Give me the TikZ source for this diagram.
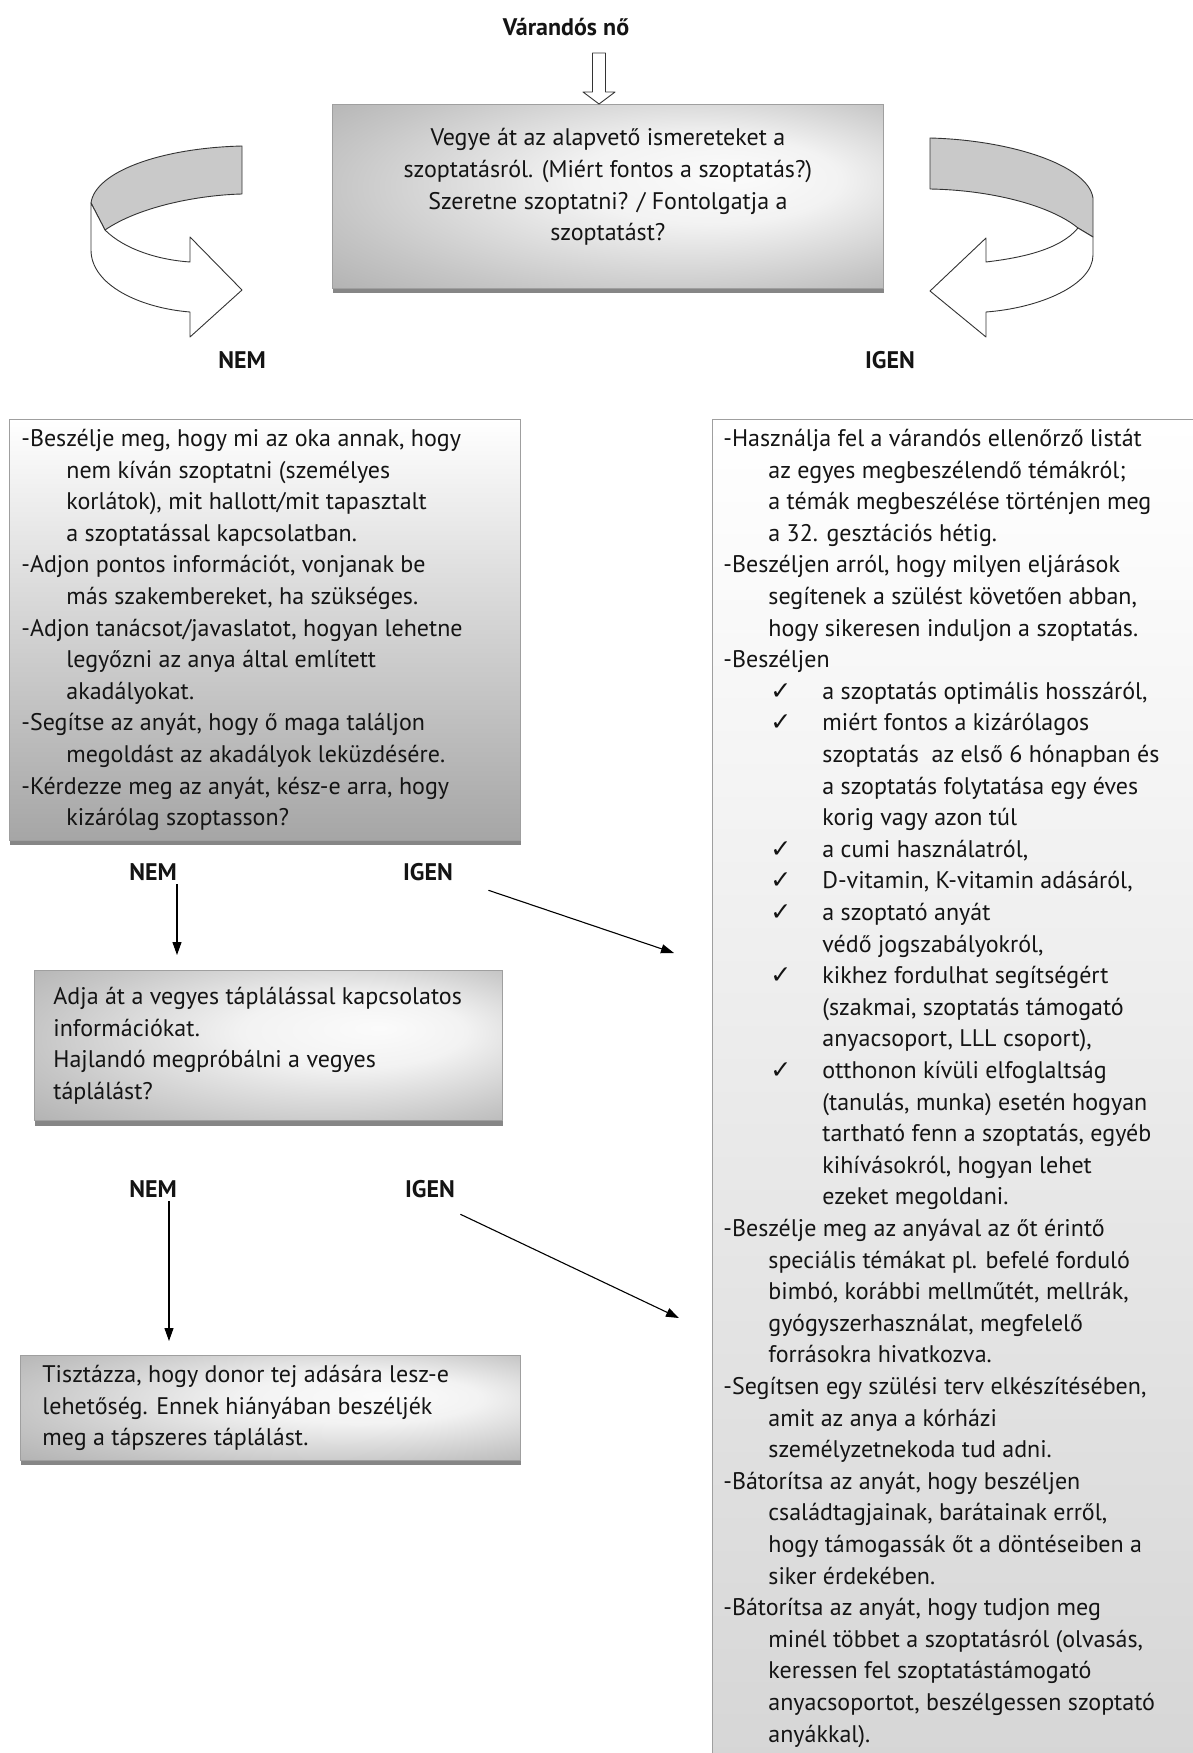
\documentclass[tikz,border=0pt]{standalone}
\usepackage{fontspec}
\setmainfont{PT Sans}
\newfontfamily\chkfont{DejaVu Sans}
\usetikzlibrary{arrows.meta,shadows}

\newcommand{\bodyfont}{\fontsize{24}{31.6}\selectfont}
\newcommand{\ind}{\hspace*{45pt}}
\newcommand{\chk}{\hspace*{47pt}\makebox[52pt][l]{\chkfont\fontsize{25}{20}\selectfont ✓}}
\newcommand{\chkind}{\hspace*{99pt}}
\pgfdeclareradialshading{sheen}{\pgfpoint{12bp}{6bp}}{color(0bp)=(gray!3); color(12bp)=(gray!10); color(30bp)=(gray!45); color(50bp)=(gray!80)}

\begin{document}
\begin{tikzpicture}[x=1pt, y=-1pt,
	box/.style={draw=gray!75, line width=0.8pt, anchor=north west, inner xsep=12pt, inner ysep=5pt,
		font=\bodyfont, text=black!92,
		drop shadow={shadow xshift=1pt, shadow yshift=-5pt, fill=gray!95, opacity=1}},
	metal/.style={shading=sheen},
	answer/.style={font=\bodyfont\bfseries, text=black!92},
	conn/.style={-{Triangle[length=13pt, width=9pt]}, line width=1.1pt},
	curl/.style={draw=black!80, line width=0.9pt, line join=round}]
	\useasboundingbox (0,0) rectangle (1193,1753);

	\node[box, metal, minimum width=551pt, minimum height=184pt] (intro) at (332,104)
		{\begin{tabular}{@{}c@{}}Vegye át az alapvető ismereteket a\\ szoptatásról. (Miért fontos a szoptatás?)\\ Szeretne szoptatni? / Fontolgatja a\\ szoptatást?\\[19pt]\end{tabular}};

	\node[box, top color=white, bottom color=gray!70] (nobox) at (9,419)
		{\makebox[487pt][l]{\begin{tabular}{@{}l@{}}
		-Beszélje meg, hogy mi az oka annak, hogy\\
		\ind nem kíván szoptatni (személyes\\
		\ind korlátok), mit hallott/mit tapasztalt\\
		\ind a szoptatással kapcsolatban.\\
		-Adjon pontos információt, vonjanak be\\
		\ind más szakembereket, ha szükséges.\\
		-Adjon tanácsot/javaslatot, hogyan lehetne\\
		\ind legyőzni az anya által említett\\
		\ind akadályokat.\\
		-Segítse az anyát, hogy ő maga találjon\\
		\ind megoldást az akadályok leküzdésére.\\
		-Kérdezze meg az anyát, kész-e arra, hogy\\
		\ind kizárólag szoptasson?
		\end{tabular}}};

	\node[box, top color=white, bottom color=gray!32, inner xsep=11pt] (yesbox) at (712,419)
		{\makebox[520pt][l]{\begin{tabular}{@{}l@{}}
		-Használja fel a várandós ellenőrző listát\\
		\ind az egyes megbeszélendő témákról;\\
		\ind a témák megbeszélése történjen meg\\
		\ind a 32. gesztációs hétig.\\
		-Beszéljen arról, hogy milyen eljárások\\
		\ind segítenek a szülést követően abban,\\
		\ind hogy sikeresen induljon a szoptatás.\\
		-Beszéljen\\
		\chk a szoptatás optimális hosszáról,\\
		\chk miért fontos a kizárólagos\\
		\chkind szoptatás\ \ az első 6 hónapban és\\
		\chkind a szoptatás folytatása egy éves\\
		\chkind korig vagy azon túl\\
		\chk a cumi használatról,\\
		\chk D-vitamin, K-vitamin adásáról,\\
		\chk a szoptató anyát\\
		\chkind védő jogszabályokról,\\
		\chk kikhez fordulhat segítségért\\
		\chkind (szakmai, szoptatás támogató\\
		\chkind anyacsoport, LLL csoport),\\
		\chk otthonon kívüli elfoglaltság\\
		\chkind (tanulás, munka) esetén hogyan\\
		\chkind tartható fenn a szoptatás, egyéb\\
		\chkind kihívásokról, hogyan lehet\\
		\chkind ezeket megoldani.\\
		-Beszélje meg az anyával az őt érintő\\
		\ind speciális témákat pl. befelé forduló\\
		\ind bimbó, korábbi mellműtét, mellrák,\\
		\ind gyógyszerhasználat, megfelelő\\
		\ind forrásokra hivatkozva.\\
		-Segítsen egy szülési terv elkészítésében,\\
		\ind amit az anya a kórházi\\
		\ind személyzetnekoda tud adni.\\
		-Bátorítsa az anyát, hogy beszéljen\\
		\ind családtagjainak, barátainak erről,\\
		\ind hogy támogassák őt a döntéseiben a\\
		\ind siker érdekében.\\
		-Bátorítsa az anyát, hogy tudjon meg\\
		\ind minél többet a szoptatásról (olvasás,\\
		\ind keressen fel szoptatástámogató\\
		\ind anyacsoportot, beszélgessen szoptató\\
		\ind anyákkal).
		\end{tabular}}};

	\node[box, metal, inner xsep=19pt, inner ysep=12pt] (mixbox) at (34,970)
		{\makebox[430pt][l]{\begin{tabular}{@{}l@{}}
		Adja át a vegyes táplálással kapcsolatos\\
		információkat.\\
		Hajlandó megpróbálni a vegyes\\
		táplálást?
		\end{tabular}}};

	\node[box, metal, inner xsep=22pt] (donorbox) at (20,1355)
		{\makebox[456pt][l]{\begin{tabular}{@{}l@{}}
		Tisztázza, hogy donor tej adására lesz-e\\
		lehetőség. Ennek hiányában beszéljék\\
		meg a tápszeres táplálást.
		\end{tabular}}};

	% hollow arrow into the first box
	\node[answer] (woman) at (566,27) {Várandós nő};
	\coordinate (intop) at (599,104);
	\begin{scope}[shift={(intop)}]
		\draw[curl, fill=white] (-6.5,-51) -- (6.5,-51) -- (6.5,-12) -- (16,-12) -- (0,0) -- (-16,-12) -- (-6.5,-12) -- cycle;
	\end{scope}

	% curled arrows
	\draw[curl, fill=gray!42] (242,146) .. controls (160,148) and (95,172) .. (91,203)
		-- (105,230) .. controls (140,206) and (200,195) .. (242,194) -- cycle;
	\draw[curl, fill=white] (105,230) .. controls (125,250) and (160,260) .. (190,262)
		-- (190,237) -- (242,290) -- (190,337) -- (190,312)
		.. controls (140,308) and (91,285) .. (91,250) -- (91,203) -- cycle;
	\draw[curl, fill=gray!42] (930,138) .. controls (1010,140) and (1088,165) .. (1093,198)
		-- (1093,237) -- (1078,228) .. controls (1050,205) and (990,190) .. (930,189) -- cycle;
	\draw[curl, fill=white] (1078,228) .. controls (1060,250) and (1020,258) .. (986,262)
		-- (986,238) -- (930,291) -- (986,337) -- (986,312)
		.. controls (1040,308) and (1093,285) .. (1093,255) -- (1093,237) -- cycle;

	\node[answer] (no1) at (242,360) {NEM};
	\node[answer] (yes1) at (890,360) {IGEN};
	\node[answer] (no2) at (153,872) {NEM};
	\node[answer] (yes2) at (428,872) {IGEN};
	\node[answer] (no3) at (153,1189) {NEM};
	\node[answer] (yes3) at (430,1189) {IGEN};

	\coordinate (no2tip) at (177,955);
	\coordinate (yes2tip) at (674,953);
	\coordinate (no3tip) at (169,1341);
	\coordinate (yes3tip) at (679,1318);
	\path[conn]
	(no2.south -| no2tip) edge (no2tip)
	([shift={(32,6)}]yes2.south east) edge (yes2tip)
	(no3.south -| no3tip) edge (no3tip)
	([shift={(2,13)}]yes3.south east) edge (yes3tip);
\end{tikzpicture}
\end{document}
